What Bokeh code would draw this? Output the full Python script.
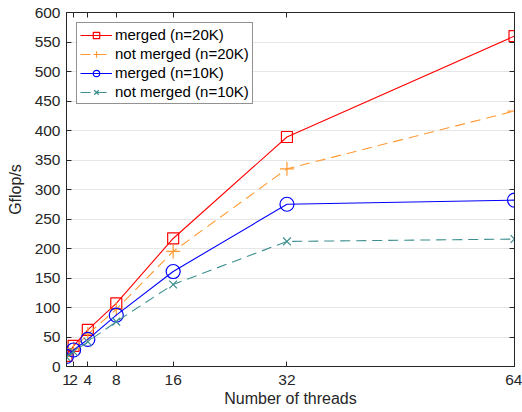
from bokeh.plotting import figure
from bokeh.models import LinearAxis, FixedTicker, Range1d, Legend, LegendItem
from bokeh.embed import file_html
from bokeh.resources import INLINE

threads = [1, 2, 4, 8, 16, 32, 64]
merged_20k = [18, 35, 62, 107, 217, 389, 560]
not_merged_20k = [17, 30, 55, 97, 195, 335, 433]
merged_10k = [17, 28, 46, 87, 161, 275, 282]
not_merged_10k = [16, 25, 42, 76, 139, 212, 216]

x_ticks = [1, 2, 4, 8, 16, 32, 64]
y_ticks = list(range(0, 601, 50))

FONT = "Liberation Sans"

p = figure(width=522, height=412, output_backend="svg", toolbar_location=None,
           x_range=Range1d(1, 64), y_range=Range1d(0, 600),
           min_border_left=66, min_border_right=8, min_border_top=12, min_border_bottom=46)
p.outline_line_color = "#262626"
p.outline_line_width = 1
p.background_fill_color = "white"
p.border_fill_color = "white"

p.xgrid.visible = False
p.ygrid.ticker = FixedTicker(ticks=y_ticks)
p.ygrid.grid_line_color = "#e6e6e6"
p.ygrid.grid_line_width = 1


def style_axis(ax, ticks, labels=True):
    ax.ticker = FixedTicker(ticks=ticks)
    ax.minor_tick_line_color = None
    ax.major_tick_in = 5
    ax.major_tick_out = 0
    ax.axis_line_color = "#262626"
    ax.major_tick_line_color = "#262626"
    ax.major_label_text_font = FONT
    ax.major_label_text_font_size = "15.5px"
    ax.major_label_text_color = "#262626"
    if not labels:
        ax.major_label_text_font_size = "0px"
        ax.major_label_text_alpha = 0


style_axis(p.xaxis[0], x_ticks)
style_axis(p.yaxis[0], y_ticks)
p.xaxis[0].axis_label = "Number of threads"
p.yaxis[0].axis_label = "Gflop/s"
for ax in (p.xaxis[0], p.yaxis[0]):
    ax.axis_label_text_font = FONT
    ax.axis_label_text_font_size = "16px"
    ax.axis_label_text_font_style = "normal"
    ax.axis_label_text_color = "#262626"
p.xaxis[0].major_label_standoff = 8
p.xaxis[0].axis_label_standoff = 2
p.yaxis[0].major_label_standoff = 6
p.yaxis[0].axis_label_standoff = 8

top_ax = LinearAxis()
style_axis(top_ax, x_ticks, labels=False)
p.add_layout(top_ax, "above")
right_ax = LinearAxis()
style_axis(right_ax, y_ticks, labels=False)
p.add_layout(right_ax, "right")

series = [
    ("merged (n=20K)", merged_20k, "#ff0000", "solid", "square"),
    ("not merged (n=20K)", not_merged_20k, "#ff9a33", "10 6", "cross"),
    ("merged (n=10K)", merged_10k, "#0000ff", "solid", "circle"),
    ("not merged (n=10K)", not_merged_10k, "#3d8f8f", "10 6", "x"),
]

items = []
for label, ys, color, dash, marker in series:
    ln = p.line(threads, ys, line_color=color, line_width=1.1, line_dash=dash)
    size = {"square": 11, "cross": 14, "circle": 14, "x": 11}[marker]
    sc = p.scatter(threads, ys, marker=marker, size=size, fill_color=None,
                   line_color=color, line_width=1.2)
    items.append(LegendItem(label=label, renderers=[ln, sc]))

legend = Legend(items=items, location="top_left")
legend.label_text_font = FONT
legend.label_text_font_size = "15px"
legend.label_text_color = "#000000"
legend.border_line_color = "#262626"
legend.border_line_width = 1
legend.background_fill_color = "white"
legend.glyph_width = 32
legend.glyph_height = 16
legend.label_height = 16
legend.spacing = 2
legend.padding = 3
legend.margin = 10
legend.label_standoff = 3
p.add_layout(legend)

open("out.html", "w").write(file_html(p, INLINE))
